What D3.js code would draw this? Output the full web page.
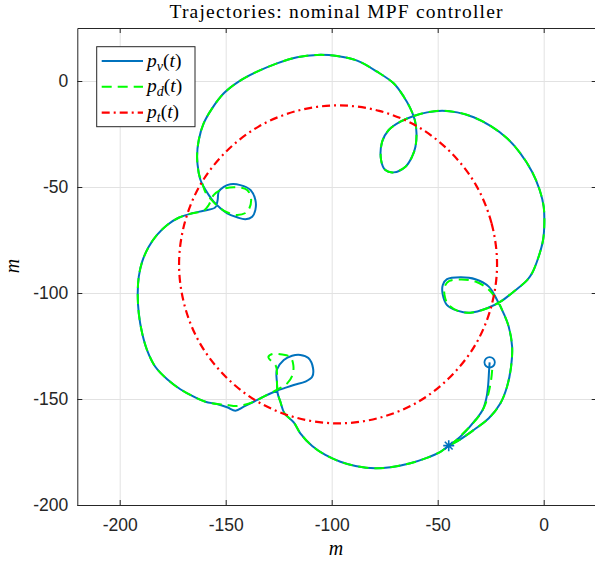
<!DOCTYPE html>
<html>
<head>
	<meta charset="utf-8">
	<title>Trajectories: nominal MPF controller</title>
	<style>
		html, body { margin:0; padding:0; background:#fff; }
		.axis text { font-family: "Liberation Sans", Arial, sans-serif; font-size: 17.5px; fill: #262626; }
		.axis path, .axis line { stroke: #262626; stroke-width: 1px; }
		.grid line { stroke: #e2e2e2; stroke-width: 1px; }
		.grid path { display: none; }
		.tx { font-family: "Liberation Serif", "DejaVu Serif", serif; fill: #000; }
	</style>
	<script src="https://cdn.jsdelivr.net/npm/d3@7"></script>
</head>
<body>
<svg id="chart"></svg>
<script>

	//tick values
	var xTicks = [-200, -150, -100, -50, 0];
	var yTicks = [-200, -150, -100, -50, 0];

	//vehicle path p_v (x, y in m)
	var pv = [
		[-25.5,-132.7],[-25.8,-137.1],[-26.2,-143.4],[-27.0,-149.4],[-28.8,-155.2],[-32.2,-159.9],[-36.9,-165.4],[-41.7,-169.8],[-44.8,-172.0],
		[-48.7,-174.9],[-55.8,-178.0],[-62.9,-180.3],[-72.3,-182.2],[-79.4,-182.7],[-88.8,-181.6],[-95.9,-179.6],[-103.0,-176.4],[-109.2,-172.2],
		[-114.8,-166.2],[-117.9,-161.0],[-122.3,-156.7],[-124.2,-151.3],[-125.5,-147.3],[-125.8,-142.6],[-126.1,-137.9],[-125.8,-136.0],
		[-122.6,-131.6],[-118.7,-129.6],[-114.8,-129.2],[-111.0,-130.7],[-108.8,-135.5],[-109.2,-139.5],[-112.4,-141.8],[-117.9,-143.4],
		[-122.6,-145.0],[-125.8,-146.1],[-130.5,-148.1],[-136.8,-151.3],[-141.5,-153.6],[-145.4,-155.5],[-149.3,-153.9],[-154.1,-152.4],
		[-159.6,-151.3],[-165.1,-148.9],[-171.4,-145.4],[-177.6,-140.7],[-183.2,-134.8],[-187.1,-126.9],[-189.4,-119.0],[-191.0,-109.6],
		[-191.5,-100.1],[-191.0,-92.3],[-189.4,-85.2],[-186.3,-78.2],[-182.4,-72.6],[-177.6,-67.9],[-172.2,-64.5],[-165.8,-62.4],[-160.4,-61.2],
		[-154.9,-59.6],[-153.8,-56.1],[-153.3,-52.2],[-150.9,-49.9],[-147.8,-48.7],[-143.1,-49.1],[-138.3,-51.4],[-136.0,-56.1],[-136.0,-60.8],
		[-137.5,-64.0],[-140.7,-65.2],[-144.6,-64.3],[-149.3,-62.4],[-152.5,-60.0],[-155.7,-56.9],[-158.5,-53.0],[-160.4,-49.9],[-161.9,-46.7],
		[-162.7,-43.5],[-163.5,-35.7],[-162.7,-27.8],[-160.4,-20.0],[-156.4,-12.9],[-150.9,-5.8],[-143.9,-0.3],[-135.2,4.4],[-125.8,8.3],
		[-116.3,11.2],[-106.9,12.3],[-97.5,11.8],[-88.0,9.6],[-78.6,4.4],[-70.8,-1.1],[-66.0,-7.4],[-62.9,-12.9],[-60.8,-18.4],[-60.0,-24.7],
		[-60.5,-31.0],[-62.1,-35.7],[-65.2,-40.4],[-70.8,-43.1],[-74.7,-42.0],[-76.7,-37.3],[-76.2,-28.6],[-73.1,-23.1],[-67.6,-19.2],
		[-61.3,-16.5],[-55.0,-14.8],[-47.9,-14.0],[-40.8,-14.8],[-33.0,-17.1],[-25.1,-21.2],[-17.3,-27.0],[-11.0,-34.1],[-5.5,-42.8],
		[-1.9,-51.4],[0.0,-59.3],[0.3,-67.1],[-0.3,-75.0],[-2.4,-82.9],[-5.5,-90.7],[-7.8,-93.9],[-14.2,-99.4],[-20.4,-104.1],[-26.7,-107.2],
		[-34.6,-109.3],[-40.8,-108.3],[-45.6,-105.7],[-47.6,-100.9],[-47.6,-96.2],[-45.6,-93.5],[-39.3,-92.6],[-32.2,-93.5],[-25.9,-97.0],
		[-22.0,-103.3],[-18.9,-109.6],[-16.5,-115.9],[-14.9,-125.3],[-15.4,-134.8],[-17.3,-144.2],[-20.4,-152.0],[-25.9,-159.1],[-33.0,-164.6],
		[-39.3,-169.0],[-44.8,-172.0]
	];

	//desired path p_d
	var pd = [
		[-24.3,-136.3],[-24.8,-141.0],[-25.9,-146.7],[-27.5,-152.4],[-29.9,-157.1],[-33.2,-161.3],[-37.4,-165.6],[-41.7,-169.8],[-44.8,-172.0],
		[-48.7,-174.9],[-55.8,-178.0],[-62.9,-180.3],[-72.3,-182.2],[-79.4,-182.7],[-88.8,-181.6],[-95.9,-179.6],[-103.0,-176.4],[-109.2,-172.2],
		[-114.8,-166.2],[-117.9,-161.0],[-122.3,-156.7],[-124.2,-151.3],[-125.5,-147.3],[-125.8,-142.6],
		[-125.8,-138.2],[-126.3,-134.5],[-129.9,-130.2],[-128.0,-128.8],[-123.3,-129.0],[-119.5,-130.2],[-118.1,-134.0],[-118.5,-138.7],
		[-120.9,-142.5],[-124.2,-144.8],[-128.9,-147.2],[-136.8,-151.3],[-141.5,-152.8],[-145.4,-153.3],[-149.3,-152.8],[-154.1,-152.4],
		[-159.6,-151.3],[-165.1,-148.9],[-171.4,-145.4],[-177.6,-140.7],[-183.2,-134.8],[-187.1,-126.9],[-189.4,-119.0],[-191.0,-109.6],
		[-191.5,-100.1],[-191.0,-92.3],[-189.4,-85.2],[-186.3,-78.2],[-182.4,-72.6],[-177.6,-67.9],[-172.2,-64.5],[-165.8,-62.4],[-160.4,-61.2],
		[-158.0,-58.5],[-155.7,-53.8],[-152.5,-51.4],[-146.2,-50.1],[-139.9,-51.4],[-138.0,-56.1],[-139.9,-61.7],[-144.6,-63.2],[-149.7,-61.8],
		[-153.4,-59.4],[-156.7,-56.1],[-159.6,-52.4],[-161.1,-48.1],
		[-162.7,-43.5],[-163.5,-35.7],[-162.7,-27.8],[-160.4,-20.0],[-156.4,-12.9],[-150.9,-5.8],[-143.9,-0.3],[-135.2,4.4],[-125.8,8.3],
		[-116.3,11.2],[-106.9,12.3],[-97.5,11.8],[-88.0,9.6],[-78.6,4.4],[-70.8,-1.1],[-66.0,-7.4],[-62.9,-12.9],[-60.8,-18.4],[-60.0,-24.7],
		[-60.5,-31.0],[-62.1,-35.7],[-65.2,-40.4],[-70.8,-43.1],[-74.7,-42.0],[-76.7,-37.3],[-76.2,-28.6],[-73.1,-23.1],[-67.6,-19.2],
		[-61.3,-16.5],[-55.0,-14.8],[-47.9,-14.0],[-40.8,-14.8],[-33.0,-17.1],[-25.1,-21.2],[-17.3,-27.0],[-11.0,-34.1],[-5.5,-42.8],
		[-1.9,-51.4],[0.0,-59.3],[0.3,-67.1],[-0.3,-75.0],[-2.4,-82.9],[-5.5,-90.7],[-7.8,-93.9],[-14.2,-99.4],[-20.4,-104.1],[-26.7,-107.2],
		[-34.6,-109.3],[-40.8,-108.3],[-45.2,-105.2],[-46.8,-100.9],[-46.6,-96.7],[-44.5,-94.3],[-38.8,-93.6],[-32.2,-94.6],[-26.3,-98.1],
		[-22.0,-103.3],[-18.9,-109.6],[-16.5,-115.9],[-14.9,-125.3],[-15.4,-134.8],[-17.3,-144.2],[-20.4,-152.0],[-25.9,-159.1],[-33.0,-164.6],
		[-39.3,-169.0],[-44.8,-172.0]
	];

	//target path p_t (closed loop)
	var pt = [
		[-22.0,-86.5],[-24.6,-67.1],[-32.0,-49.0],[-44.0,-33.5],[-59.5,-21.5],[-77.6,-14.1],[-97.0,-11.5],[-116.4,-14.1],
		[-134.5,-21.5],[-150.0,-33.5],[-162.0,-49.0],[-169.4,-67.1],[-172.0,-86.5],[-169.4,-105.9],[-162.0,-124.0],[-150.0,-139.5],
		[-134.5,-151.5],[-116.4,-158.9],[-97.0,-161.5],[-77.6,-158.9],[-59.5,-151.5],[-44.0,-139.5],[-32.0,-124.0],[-24.6,-105.9]
	];

	//legend entries: symbol, subscript
	var legendNames = [["p","v"],["p","d"],["p","t"]];

	var W = 595, H = 562;
	var svg = d3.select("#chart").attr("width", W).attr("height", H);
	svg.append("rect").attr("width", W).attr("height", H).attr("fill", "#fff");

	//scales (equal axis)
	var x = d3.scaleLinear().domain([-220, 25]).range([77.3, 596.7]),
		y = d3.scaleLinear().domain([-200, 25]).range([505, 28]);
	var x0 = x.range()[0], x1 = x.range()[1], y0 = y.range()[0], y1 = y.range()[1];

	//clip
	svg.append("clipPath").attr("id", "clip").append("rect")
		.attr("x", x0).attr("y", y1).attr("width", x1 - x0).attr("height", y0 - y1);

	//grid
	svg.append("g").attr("class", "grid").attr("transform", "translate(0," + y0 + ")")
		.call(d3.axisBottom(x).tickValues(xTicks).tickSize(-(y0 - y1)).tickFormat(""));
	svg.append("g").attr("class", "grid").attr("transform", "translate(" + x0 + ",0)")
		.call(d3.axisLeft(y).tickValues(yTicks).tickSize(-(x1 - x0)).tickFormat(""));

	var fmt = function(d) { return String(d); };

	//axes
	svg.append("g").attr("class", "axis").attr("transform", "translate(0," + y0 + ")")
		.call(d3.axisBottom(x).tickValues(xTicks).tickSizeInner(-5).tickSizeOuter(0).tickPadding(14).tickFormat(fmt));
	svg.append("g").attr("class", "axis").attr("transform", "translate(0," + y1 + ")")
		.call(d3.axisTop(x).tickValues(xTicks).tickSizeInner(-5).tickSizeOuter(0).tickFormat(""));
	svg.append("g").attr("class", "axis").attr("transform", "translate(" + x0 + ",0)")
		.call(d3.axisLeft(y).tickValues(yTicks).tickSizeInner(-5).tickSizeOuter(0).tickPadding(9).tickFormat(fmt));
	svg.append("g").attr("class", "axis").attr("transform", "translate(" + x1 + ",0)")
		.call(d3.axisRight(y).tickValues(yTicks).tickSizeInner(-5).tickSizeOuter(0).tickFormat(""));

	//paths
	var line = d3.line().x(function(d) { return x(d[0]); }).y(function(d) { return y(d[1]); })
		.curve(d3.curveCatmullRom.alpha(0.5));
	var ring = d3.line().x(function(d) { return x(d[0]); }).y(function(d) { return y(d[1]); })
		.curve(d3.curveCatmullRomClosed.alpha(0.5));

	var g = svg.append("g").attr("clip-path", "url(#clip)");
	var styles = [
		{ stroke: "#0072BD", width: 2, dash: null },
		{ stroke: "#00FF00", width: 2, dash: "10,6" },
		{ stroke: "#FF0000", width: 2.2, dash: "8,4,2,4" }
	];

	g.append("path").datum(pv).attr("d", line).attr("fill", "none")
		.attr("stroke", styles[0].stroke).attr("stroke-width", styles[0].width).attr("stroke-linejoin", "round");
	g.append("path").datum(pd).attr("d", line).attr("fill", "none")
		.attr("stroke", styles[1].stroke).attr("stroke-width", styles[1].width).attr("stroke-dasharray", styles[1].dash);
	g.append("path").datum(pt).attr("d", ring).attr("fill", "none")
		.attr("stroke", styles[2].stroke).attr("stroke-width", styles[2].width).attr("stroke-dasharray", styles[2].dash);

	//start and end markers
	var s = pv[0], e = pv[pv.length - 1];
	g.append("circle").attr("cx", x(s[0])).attr("cy", y(s[1])).attr("r", 5.2)
		.attr("fill", "none").attr("stroke", "#0072BD").attr("stroke-width", 1.8);
	var ex = x(e[0]), ey = y(e[1]), a = 5.5, b = 3.9;
	g.append("path")
		.attr("d", "M" + (ex - a) + "," + ey + "H" + (ex + a) + "M" + ex + "," + (ey - a) + "V" + (ey + a)
			+ "M" + (ex - b) + "," + (ey - b) + "L" + (ex + b) + "," + (ey + b)
			+ "M" + (ex - b) + "," + (ey + b) + "L" + (ex + b) + "," + (ey - b))
		.attr("stroke", "#0072BD").attr("stroke-width", 1.6).attr("fill", "none");

	//title and labels
	svg.append("text").attr("class", "tx").attr("x", 336).attr("y", 17.5)
		.attr("text-anchor", "middle").style("font-size", "19.5px")
		.attr("textLength", 333).attr("lengthAdjust", "spacing")
		.text("Trajectories: nominal MPF controller");
	svg.append("text").attr("class", "tx").attr("x", 336).attr("y", 555)
		.attr("text-anchor", "middle").style("font-size", "20px").style("font-style", "italic").text("m");
	svg.append("text").attr("class", "tx").attr("transform", "translate(19,266) rotate(-90)")
		.attr("text-anchor", "middle").style("font-size", "20px").style("font-style", "italic").text("m");

	//legend
	var lg = svg.append("g");
	lg.append("rect").attr("x", 96.7).attr("y", 46.7).attr("width", 98.3).attr("height", 80)
		.attr("fill", "#fff").attr("stroke", "#262626").attr("stroke-width", 1);
	legendNames.forEach(function(n, i) {
		var ly = 61 + i * 25.85;
		var st = styles[i];
		lg.append("line").attr("x1", 101.7).attr("x2", 143).attr("y1", ly).attr("y2", ly)
			.attr("stroke", st.stroke).attr("stroke-width", st.width).attr("stroke-dasharray", st.dash);
		var t = lg.append("text").attr("class", "tx").attr("x", 147).attr("y", ly + 5.5).style("font-size", "19.5px");
		t.append("tspan").style("font-style", "italic").text(n[0]);
		t.append("tspan").style("font-style", "italic").style("font-size", "14px").attr("dy", 4).text(n[1]);
		t.append("tspan").attr("dy", -4).text("(");
		t.append("tspan").style("font-style", "italic").text("t");
		t.append("tspan").text(")");
	});

</script>
</body>
</html>
